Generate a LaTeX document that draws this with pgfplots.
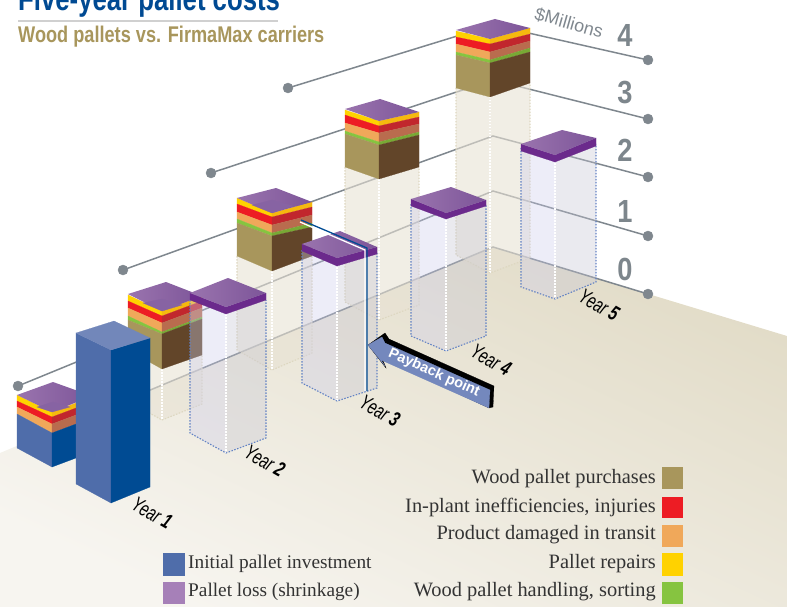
\documentclass[border=0pt]{standalone}
\usepackage{fontspec}
\usepackage{graphicx}
\usepackage{pgfplots}
\pgfplotsset{compat=1.18}
\setmainfont{Liberation Serif}
\newfontfamily\sans{Liberation Sans}
\definecolor{yelL}{HTML}{FFD200}\definecolor{yelR}{HTML}{F5B90F}
\definecolor{redL}{HTML}{ED1C24}\definecolor{redR}{HTML}{C1272D}
\definecolor{oraL}{HTML}{F0A85A}\definecolor{oraR}{HTML}{B96C4E}
\definecolor{grnL}{HTML}{86C440}\definecolor{grnR}{HTML}{78A935}
\definecolor{wodL}{HTML}{A8965C}\definecolor{wodR}{HTML}{624529}
\definecolor{bluL}{HTML}{4F6DAA}\definecolor{bluR}{HTML}{004B93}
\definecolor{barT}{HTML}{7287BA}
\definecolor{purA}{HTML}{9A74AE}\definecolor{purB}{HTML}{7D5599}
\definecolor{purS}{HTML}{6B2A8C}\definecolor{purI}{HTML}{8763A3}
\definecolor{purLeg}{HTML}{A680B8}
\definecolor{gridc}{HTML}{7F878E}
\definecolor{numc}{HTML}{7D868C}
\definecolor{colL}{RGB}{205,205,235}\definecolor{colR}{RGB}{198,198,212}
\definecolor{ghost}{RGB}{232,226,212}
\definecolor{dotb}{HTML}{6282C4}\definecolor{dotg}{HTML}{DDD7C0}
\definecolor{arrowc}{HTML}{7488BD}
\definecolor{titlec}{HTML}{004A93}
\definecolor{txt}{HTML}{333333}
\newcommand\poly[2]{\addplot[draw=#1,line width=.2pt,fill=#1] coordinates {#2} -- cycle;}
% colour, x1, y1 top, y1 bottom, x2, y2 top, y2 bottom
\newcommand\band[7]{\poly{#1}{(#2,#3)(#5,#6)(#5,#7)(#2,#4)}}
\newcommand\purtop[1]{\addplot[draw=none,left color=purA,right color=purB] coordinates {#1} -- cycle;}
\newcommand\dotl[2]{\addplot[#1,line width=1.1pt,dash pattern=on 1.5pt off 1.5pt] coordinates {#2};}
% xL xC xR, top yL yC yR, bottom yL yC yR
\newcommand\col[9]{%
 \addplot[draw=none,fill=colL,fill opacity=.36] coordinates {(#1,#4)(#2,#5)(#2,#8)(#1,#7)} -- cycle;
 \addplot[draw=none,fill=colR,fill opacity=.36] coordinates {(#2,#5)(#3,#6)(#3,#9)(#2,#8)} -- cycle;
 \dotl{white}{(#2,#5)(#2,#8)}
 \dotl{dotb}{(#1,#4)(#1,#7)(#2,#8)(#3,#9)(#3,#6)}}
\newcommand\gho[9]{%
 \addplot[draw=none,fill=ghost,fill opacity=.6] coordinates {(#1,#4)(#2,#5)(#3,#6)(#3,#9)(#2,#8)(#1,#7)} -- cycle;
 \dotl{white}{(#2,#5)(#2,#8)}
 \dotl{dotg}{(#1,#4)(#1,#7)(#2,#8)(#3,#9)(#3,#6)}}
\newcommand\yr[3]{\node[rotate=-30,text=black,inner sep=0pt] at (axis cs:#1,#2) {\fontsize{21}{21}\sans\selectfont\itshape\scalebox{.7}[1]{Year {\bfseries #3}}};}
\newcommand\num[2]{\node[text=numc] at (axis cs:625,#1) {\fontsize{32}{32}\sans\bfseries\selectfont\scalebox{.85}[1]{#2}};}
\newcommand\legR[2]{\node[anchor=east,text=txt,inner sep=0pt] at (axis cs:656,#1) {\fontsize{20.4}{21}\selectfont #2};}
\newcommand\legL[2]{\node[anchor=west,text=txt,inner sep=0pt] at (axis cs:188,#1) {\fontsize{19.3}{20}\selectfont #2};}
\begin{document}
\begin{tikzpicture}
\useasboundingbox (0,0) rectangle (787pt,607pt);
\clip (0,0) rectangle (787pt,607pt);
\begin{axis}[at={(0,0)},anchor=south west,scale only axis,width=787pt,height=607pt,
 xmin=0,xmax=787,ymin=0,ymax=607,y dir=reverse,hide axis,clip=true]
% floor
\addplot[draw=none,top color={rgb,255:red,226;green,220;blue,200},bottom color={rgb,255:red,247;green,245;blue,240},shading angle=-25] coordinates {(0,453)(493,247)(787,336)(787,607)(0,607)} -- cycle;
% value lines
\addplot[gridc,line width=1.5pt] coordinates {(288,88)(493,25)(648,60)};
\addplot[gridc,line width=1.5pt] coordinates {(211,173)(493,80)(648,119)};
\addplot[gridc,line width=1.5pt] coordinates {(123,270)(493,136)(648,177)};
\addplot[gridc,line width=1.5pt] coordinates {(18,386)(493,191)(648,236)};
\addplot[gridc,line width=1.5pt] coordinates {(40,436)(493,247)(648,294)};
\addplot[only marks,mark=*,mark size=5pt,gridc,mark options={draw=none,fill=gridc}] coordinates {(648,60)(648,119)(648,177)(648,236)(648,294)(288,88)(211,173)(123,270)(18,386)};
% Year 5
\gho{456}{490}{530}{88}{97}{83}{255}{273}{258}
\band{yelL}{456}{31}{37}{490}{39}{44}\band{yelR}{490}{39}{44}{530}{28}{34}
\band{redL}{456}{37}{44}{490}{44}{52}\band{redR}{490}{44}{52}{530}{34}{41}
\band{oraL}{456}{44}{52}{490}{52}{60}\band{oraR}{490}{52}{60}{530}{41}{48}
\band{grnL}{456}{52}{55}{490}{60}{63}\band{grnR}{490}{60}{63}{530}{48}{52}
\band{wodL}{456}{55}{88}{490}{63}{97}\band{wodR}{490}{63}{97}{530}{52}{83}
\purtop{(456,30)(495,19)(530,28)(490,39)}
\col{521}{555}{596}{148}{160}{144}{287}{299}{282}
\band{purS}{521}{144}{151}{555}{155}{162}\band{purS}{555}{155}{162}{596}{138}{146}
\purtop{(521,144)(562,130)(596,138)(555,155)}
% Year 4
\gho{345}{379}{419}{167}{179}{167}{302}{320}{305}
\band{yelL}{345}{110}{115}{379}{121}{126}\band{yelR}{379}{121}{126}{419}{112}{117}
\band{redL}{345}{115}{123}{379}{126}{133}\band{redR}{379}{126}{133}{419}{117}{124}
\band{oraL}{345}{123}{131}{379}{133}{142}\band{oraR}{379}{133}{142}{419}{124}{132}
\band{grnL}{345}{131}{134}{379}{142}{145}\band{grnR}{379}{142}{145}{419}{132}{135}
\band{wodL}{345}{134}{167}{379}{145}{179}\band{wodR}{379}{145}{179}{419}{135}{167}
\purtop{(345,109)(380,99)(419,112)(379,121)}
\col{411}{446}{486}{204}{217}{204}{336}{351}{336}
\band{purS}{411}{199}{206}{446}{213}{219}\band{purS}{446}{213}{219}{486}{200}{206}
\purtop{(411,199)(451,187)(486,200)(446,213)}
% Year 3
\gho{237}{272}{312}{256}{271}{256}{350}{370}{353}
\band{yelL}{237}{198}{204}{272}{213}{217}\band{yelR}{272}{213}{217}{312}{202}{207}
\band{redL}{237}{204}{212}{272}{217}{225}\band{redR}{272}{217}{225}{312}{207}{215}
\band{oraL}{237}{212}{219}{272}{225}{233}\band{oraR}{272}{225}{233}{312}{215}{223}
\band{grnL}{237}{219}{223}{272}{233}{236}\band{grnR}{272}{233}{236}{312}{223}{227}
\band{wodL}{237}{223}{256}{272}{236}{271}\band{wodR}{272}{236}{271}{312}{227}{256}
\purtop{(237,198)(276,188)(312,202)(272,213)}
\poly{purI}{(252,205)(272,200)(293,206)(272,213)}
\col{302}{337}{377}{250}{264}{252}{383}{401}{388}
\band{purS}{302}{244}{251}{337}{258}{266}\band{purS}{337}{258}{266}{377}{247}{254}
\purtop{(302,244)(340,231)(377,247)(337,258)}
% Payback line
\addplot[white,line width=1.3pt] coordinates {(300,222)(365,250)(365,391)};
\addplot[bluR,line width=1.3pt] coordinates {(301,220)(367,248)(367,391)};
% Year 2
\gho{128}{162}{202}{350}{369}{355}{401}{420}{404}
\band{yelL}{128}{295}{301}{162}{311}{316}\band{yelR}{162}{311}{316}{202}{296}{301}
\band{redL}{128}{301}{308}{162}{316}{323}\band{redR}{162}{316}{323}{202}{301}{308}
\band{oraL}{128}{308}{316}{162}{323}{332}\band{oraR}{162}{323}{332}{202}{308}{317}
\band{grnL}{128}{316}{320}{162}{332}{334}\band{grnR}{162}{332}{334}{202}{317}{319}
\band{wodL}{128}{320}{350}{162}{334}{369}\band{wodR}{162}{334}{369}{202}{319}{355}
\purtop{(128,294)(166,282)(202,296)(162,311)}
\poly{purI}{(143,303)(162,299)(182,305)(162,311)}
\col{190}{226}{266}{300}{314}{300}{433}{453}{438}
\band{purS}{190}{293}{300}{226}{307}{314}\band{purS}{226}{307}{314}{266}{293}{300}
\purtop{(190,293)(228,278)(266,293)(226,307)}
% Year 1
\band{yelL}{17}{395}{401}{52}{412}{417}\band{yelR}{52}{412}{417}{92}{397}{402}
\band{redL}{17}{401}{407}{52}{417}{424}\band{redR}{52}{417}{424}{92}{402}{409}
\band{oraL}{17}{407}{414}{52}{424}{433}\band{oraR}{52}{424}{433}{92}{409}{418}
\band{bluL}{17}{414}{448}{52}{433}{467}\band{bluR}{52}{433}{467}{92}{418}{452}
\purtop{(17,395)(53,382)(92,396)(52,412)}
\poly{purI}{(37,407)(53,402)(70,407)(52,412)}
\band{bluL}{76}{333}{484}{111}{350}{503}
\band{bluR}{111}{350}{503}{150}{338}{487}
\poly{barT}{(76,333)(114,321)(150,338)(111,350)}
% Payback arrow
\poly{black}{(385,333)(389,339)(494,386)(493,407)(489,408)(382,358)(386,368)(368,345)}
\poly{arrowc}{(368,345)(382,337)(385,343)(490,390)(489,408)(381,360)(385,366)}
\node[rotate=-24,text=white] at (axis cs:434,373) {\fontsize{14.5}{14.5}\sans\bfseries\selectfont Payback point};
% Labels
\yr{152}{513}{1}\yr{265}{461}{2}\yr{380}{411}{3}\yr{491}{360}{4}\yr{599}{305}{5}
\num{35}{4}\num{93}{3}\num{150}{2}\num{211}{1}\num{269}{0}
\node[rotate=-16,text=gridc,inner sep=0pt] at (axis cs:569,23) {\fontsize{18}{18}\sans\selectfont\$Millions};
% Title
\node[anchor=base west,inner sep=0pt,text=titlec] at (axis cs:18,11) {\fontsize{33}{33}\sans\bfseries\selectfont\scalebox{.78}[1]{Five-year pallet costs}};
\addplot[color={rgb,255:red,208;green,208;blue,208},line width=1.5pt] coordinates {(18,21)(278,21)};
\node[anchor=base west,inner sep=0pt,text=wodL] at (axis cs:18,43) {\fontsize{22.7}{23}\sans\bfseries\selectfont\scalebox{.8}[1]{Wood pallets vs. FirmaMax carriers}};
% Legend
\poly{wodL}{(662,467)(682,467)(682,488)(662,488)}
\poly{redL}{(662,497)(682,497)(682,517)(662,517)}
\poly{oraL}{(662,525)(682,525)(682,546)(662,546)}
\poly{yelL}{(662,553)(682,553)(682,575)(662,575)}
\poly{grnL}{(662,582)(682,582)(682,603)(662,603)}
\poly{bluL}{(163,553)(184,553)(184,575)(163,575)}
\poly{purLeg}{(163,582)(184,582)(184,603)(163,603)}
\legR{479}{Wood pallet purchases}
\legR{507}{In-plant inefficiencies, injuries}
\legR{535}{Product damaged in transit}
\legR{564}{Pallet repairs}
\legR{592}{Wood pallet handling, sorting}
\legL{564}{Initial pallet investment}
\legL{592}{Pallet loss (shrinkage)}
\end{axis}
\end{tikzpicture}
\end{document}
